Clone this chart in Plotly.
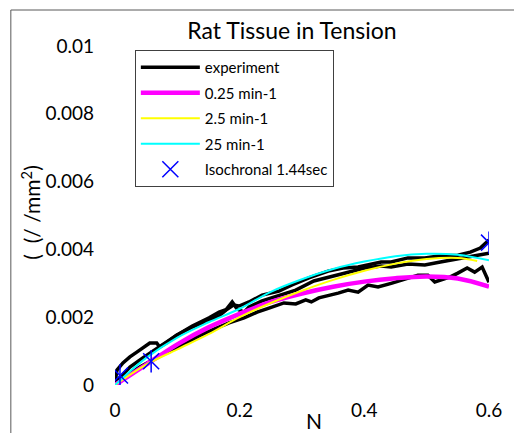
import plotly.graph_objects as go

# ---------------- data ----------------
# experiment: three measured curves (separated by None)
exp1_x = [0, 0.0032, 0.0127, 0.0239, 0.035, 0.0446, 0.0558, 0.0669, 0.0717, 0.0844, 0.0988, 0.124, 0.151,
          0.167, 0.178, 0.190, 0.199, 0.215, 0.236, 0.263, 0.284, 0.311, 0.342, 0.366, 0.390, 0.411, 0.427,
          0.443, 0.470, 0.497, 0.522, 0.550, 0.570, 0.586, 0.6]
exp1_y = [0.00006, 0.00044, 0.00065, 0.00083, 0.00097, 0.00109, 0.00124, 0.00124, 0.00112, 0.00127, 0.00147,
          0.00171, 0.00192, 0.00204, 0.00221, 0.00236, 0.00233, 0.00245, 0.00265, 0.00277, 0.00295, 0.00316,
          0.00336, 0.00345, 0.00348, 0.00357, 0.00363, 0.00363, 0.00375, 0.00375, 0.00381, 0.00383, 0.00392,
          0.00404, 0.00428]
exp2_x = [0.6, 0.570, 0.550, 0.522, 0.497, 0.470, 0.443, 0.427, 0.401, 0.374, 0.342, 0.319, 0.290, 0.263,
          0.236, 0.215, 0.207, 0.196, 0.188, 0.178, 0.167, 0.151, 0.124, 0.099, 0.072, 0.0446, 0.024, 0.008, 0]
exp2_y = [0.00389, 0.00378, 0.00372, 0.00363, 0.00354, 0.00357, 0.00348, 0.00351, 0.00345, 0.00333, 0.00319,
          0.00307, 0.0028, 0.00265, 0.00248, 0.0023, 0.00215, 0.00224, 0.00245, 0.00222, 0.00215, 0.00198,
          0.00174, 0.00147, 0.00115, 0.0008, 0.00053, 0.00024, 0.00006]
exp3_x = [0.6, 0.589, 0.577, 0.565, 0.550, 0.538, 0.513, 0.502, 0.486, 0.470, 0.443, 0.422, 0.406, 0.390,
          0.374, 0.358, 0.342, 0.327, 0.315, 0.306, 0.290, 0.271, 0.247, 0.228, 0.207, 0.183, 0.159, 0.135,
          0.111, 0.0876, 0.0637, 0.0398, 0.019, 0]
exp3_y = [0.00303, 0.00348, 0.00333, 0.00345, 0.0033, 0.00319, 0.00304, 0.00324, 0.00324, 0.00316, 0.003,
          0.00289, 0.00295, 0.00274, 0.0028, 0.00271, 0.00265, 0.00257, 0.00245, 0.00251, 0.00239, 0.00242,
          0.00227, 0.00215, 0.00198, 0.00183, 0.00165, 0.00145, 0.00121, 0.001, 0.00077, 0.00053, 0.0003,
          0.00006]

model_x = [0, 0.05, 0.1, 0.15, 0.2, 0.25, 0.3, 0.35, 0.4, 0.45, 0.5, 0.55, 0.6]
rate_025_y = [0, 0.0006, 0.0012, 0.0017, 0.0021, 0.00245, 0.0027, 0.0029, 0.00305, 0.00315, 0.0032, 0.00314, 0.0029]
rate_25_y = [0, 0.0008, 0.0014, 0.00185, 0.00225, 0.00275, 0.00312, 0.00342, 0.00364, 0.0038, 0.00387, 0.00384, 0.00368]
yellow_x = [0, 0.05, 0.1, 0.15, 0.2, 0.25, 0.3, 0.35, 0.4, 0.45, 0.5, 0.55, 0.581]
rate_2_5_y = [0, 0.0006, 0.00105, 0.0015, 0.002, 0.00242, 0.00278, 0.0031, 0.00337, 0.00358, 0.00372, 0.00375, 0.00366]

iso_x = [0.008, 0.058, 0.6]
iso_y = [0.00028, 0.0007, 0.0042]

x_ticks = [0, 0.2, 0.4, 0.6]
x_tick_labels = ["0", "0.2", "0.4", "0.6"]
y_ticks = [0, 0.002, 0.004, 0.006, 0.008, 0.01]
y_tick_labels = ["0", "0.002", "0.004", "0.006", "0.008", "0.01"]

FONT = "Lato, 'Open Sans', sans-serif"

exp_x = exp1_x + [None] + exp2_x + [None] + exp3_x
exp_y = exp1_y + [None] + exp2_y + [None] + exp3_y

fig = go.Figure()
fig.add_trace(go.Scatter(x=exp_x, y=exp_y, mode="lines", name="experiment",
                         line=dict(color="black", width=3.5), legendgroup="a"))
fig.add_trace(go.Scatter(x=model_x, y=rate_025_y, mode="lines", name="0.25 min-1",
                         line=dict(color="#FF00FF", width=4.5, shape="spline"), legendgroup="b"))
fig.add_trace(go.Scatter(x=yellow_x, y=rate_2_5_y, mode="lines", name="2.5 min-1",
                         line=dict(color="#FFFF00", width=2, shape="spline"), legendgroup="c"))
fig.add_trace(go.Scatter(x=model_x, y=rate_25_y, mode="lines", name="25 min-1",
                         line=dict(color="#00FFFF", width=2, shape="spline"), legendgroup="d"))
fig.add_trace(go.Scatter(x=iso_x, y=iso_y, mode="markers", name="Isochronal 1.44sec",
                         marker=dict(symbol="x-thin-open", size=16, color="#0000FF",
                                     line=dict(color="#0000FF", width=1.5)), legendgroup="e"))
fig.add_trace(go.Scatter(x=iso_x, y=iso_y, mode="markers", showlegend=False,
                         marker=dict(symbol="line-ns-open", size=16, color="#0000FF",
                                     line=dict(color="#0000FF", width=1.5)), legendgroup="e"))

L, R, T, B = 115, 22, 46, 48
W, H = 514, 433
pw, ph = W - L - R, H - T - B

def px_x(p):
    return (p - L) / pw

def px_y(p):
    return (H - B - p) / ph

fig.update_layout(
    width=W, height=H,
    margin=dict(l=L, r=R, t=T, b=B, pad=0),
    paper_bgcolor="white", plot_bgcolor="white",
    font=dict(family=FONT, color="black"),
    title=dict(text="Rat Tissue in Tension", xref="container", x=292 / W, xanchor="center",
               y=1 - 31 / H, yanchor="middle", font=dict(size=23, family=FONT, color="black")),
    showlegend=True,
    legend=dict(x=px_x(135), y=px_y(50), xanchor="left", yanchor="top",
                bgcolor="white", bordercolor="#404040", borderwidth=1,
                font=dict(size=15, family=FONT, color="black"),
                tracegroupgap=3, traceorder="grouped", itemwidth=59),
    xaxis=dict(range=[0, 0.6], tickvals=x_ticks, ticktext=x_tick_labels,
               showgrid=False, zeroline=False, showline=False, ticks="",
               tickfont=dict(size=19, family=FONT, color="black"), ticklabelstandoff=12),
    yaxis=dict(range=[0, 0.01], tickvals=y_ticks, ticktext=y_tick_labels,
               showgrid=False, zeroline=False, showline=False, ticks="",
               tickfont=dict(size=19, family=FONT, color="black"), ticklabelstandoff=20),
    shapes=[dict(type="rect", xref="paper", yref="paper",
                 x0=px_x(10), x1=px_x(W + 20), y0=px_y(H + 20), y1=px_y(10),
                 line=dict(color="#595959", width=1), fillcolor="rgba(0,0,0,0)", layer="below")],
    annotations=[
        dict(text="N", xref="paper", yref="paper", x=px_x(316), y=px_y(420),
             xanchor="center", yanchor="middle", showarrow=False,
             font=dict(size=21, family=FONT, color="black")),
        dict(text="(&nbsp;&nbsp;(/ /mm<sup>2</sup>)", xref="paper", yref="paper", x=px_x(30), y=px_y(213),
             xanchor="center", yanchor="middle", showarrow=False, textangle=-90,
             font=dict(size=21, family=FONT, color="black")),
    ],
)

fig.write_html("out.html", config={"displayModeBar": False},
               post_script="document.body.style.margin='0';document.body.style.overflow='hidden';")
